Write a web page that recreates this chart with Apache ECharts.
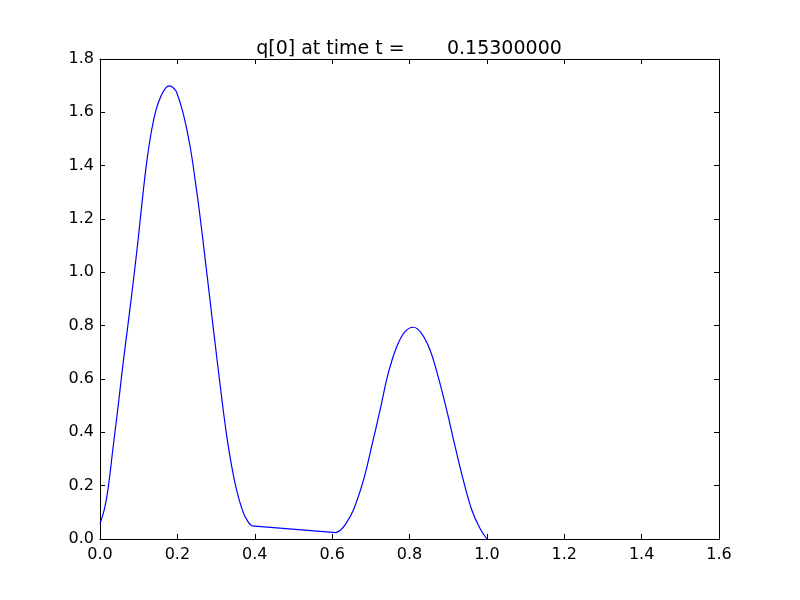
<!DOCTYPE html>
<html>
<head>
<meta charset="utf-8">
<script src="https://cdn.jsdelivr.net/npm/echarts@6/dist/echarts.min.js"></script>
<style>html,body{margin:0;padding:0;background:#fff}#c{width:800px;height:600px}</style>
</head>
<body>
<div id="c"></div>
<script>
var titleText = "q[0] at time t =       0.15300000";
var xValues = [0.000,0.012,0.021,0.034,0.047,0.059,0.072,0.081,0.090,0.098,0.107,0.120,0.133,0.145,0.158,0.170,0.180,0.190,0.198,0.215,0.233,0.246,0.258,0.271,0.284,0.297,0.310,0.323,0.336,0.353,0.370,0.383,0.392,0.610,0.622,0.633,0.655,0.681,0.702,0.724,0.745,0.767,0.788,0.810,0.831,0.853,0.874,0.896,0.918,0.939,0.961,0.982,1.000];
var yValues = [0.058,0.116,0.190,0.346,0.500,0.650,0.800,0.905,1.015,1.115,1.240,1.405,1.530,1.610,1.662,1.692,1.699,1.691,1.675,1.596,1.471,1.346,1.216,1.060,0.900,0.740,0.584,0.434,0.309,0.184,0.100,0.064,0.049,0.024,0.034,0.052,0.109,0.221,0.346,0.484,0.621,0.721,0.777,0.794,0.771,0.709,0.609,0.484,0.346,0.221,0.109,0.040,0.000];
var straightFrom = 0.392, straightTo = 0.610;
var xMin = 0, xMax = 1.6, xStep = 0.2;
var yMin = 0, yMax = 1.8, yStep = 0.2;

var points = xValues.map(function(x,i){return [x, yValues[i]];});
var partA = points.filter(function(p){return p[0] <= straightFrom;});
var partB = points.filter(function(p){return p[0] >= straightFrom && p[0] <= straightTo;});
var partC = points.filter(function(p){return p[0] >= straightTo;});
var font = "DejaVu Sans";
var chart = echarts.init(document.getElementById('c'), null, {renderer:'canvas'});
function axisCommon(pos, labels){
  return {
    type:'value', position:pos,
    axisLine:{show:true, onZero:false, lineStyle:{color:'#000', width:1}},
    axisTick:{show:true, inside:true, length:5, lineStyle:{color:'#000', width:1}},
    splitLine:{show:false},
    axisLabel:{show:labels, color:'#000', fontSize:16, fontFamily:font, margin:6,
      formatter:function(v){return v.toFixed(1);}}
  };
}
var xa1 = Object.assign(axisCommon('bottom', true), {min:xMin, max:xMax, interval:xStep});
var xa2 = Object.assign(axisCommon('top', false), {min:xMin, max:xMax, interval:xStep});
var ya1 = Object.assign(axisCommon('left', true), {min:yMin, max:yMax, interval:yStep});
var ya2 = Object.assign(axisCommon('right', false), {min:yMin, max:yMax, interval:yStep});
xa1.axisLabel.margin = 8;
function seg(data, sm){
  return {type:'line', data:data, xAxisIndex:0, yAxisIndex:0, showSymbol:false,
    smooth:sm, lineStyle:{color:'#0000ff', width:1.2}};
}
chart.setOption({
  animation:false,
  backgroundColor:'#fff',
  title:{text:titleText, left:404, textAlign:'center', top:35,
    textStyle:{color:'#000', fontSize:19, fontWeight:'normal', fontFamily:font}},
  grid:{left:100, right:81, top:59, bottom:61, containLabel:false},
  xAxis:[xa1, xa2],
  yAxis:[ya1, ya2],
  series:[seg(partA, 0.4), seg(partB, false), seg(partC, 0.4)]
});
</script>
</body>
</html>
